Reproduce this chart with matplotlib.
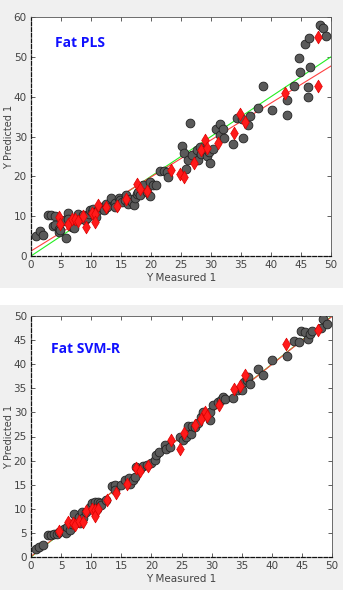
import numpy as np
import matplotlib
matplotlib.use("Agg")
import matplotlib.pyplot as plt
from matplotlib.patches import Rectangle

# ---- PLS panel data ----
pls_cal_x = [0.83, 1.5, 2.05, 2.9, 3.4, 4.0, 3.6, 4.0, 4.7, 4.7, 4.8, 5.4, 5.7, 5.9, 6.2, 6.2, 6.5, 6.8,
             7.1, 7.3, 7.6, 7.9, 8.2, 8.7, 9.0, 9.3, 9.6, 9.8, 10.1, 10.4, 10.7, 10.9, 11.2, 11.5, 12.1,
             12.5, 12.6, 13.4, 14.0, 14.0, 14.6, 14.8, 15.1, 15.7, 15.9, 16.2, 16.5, 16.8, 17.1, 17.3,
             17.6, 17.9, 18.2, 18.7, 19.3, 19.8, 19.9, 20.4, 20.9, 21.5, 22.1, 22.6, 22.9, 25.1, 25.5,
             25.9, 26.2, 26.5, 26.8, 27.6, 27.9, 28.2, 28.4, 28.8, 29.3, 29.6, 29.8, 30.4, 30.9, 31.5,
             31.5, 32.0, 32.2, 33.7, 34.3, 35.1, 35.3, 36.2, 36.5, 37.8, 38.6, 40.1, 42.6, 42.7, 43.8,
             44.7, 44.9, 45.7, 46.1, 46.1, 46.3, 46.5, 48.2, 48.6, 49.2]
pls_cal_y = [4.9, 6.2, 5.2, 10.2, 10.2, 10.0, 7.5, 7.7, 6.9, 5.9, 6.6, 8.7, 9.0, 4.6, 10.9, 9.4, 8.1, 7.3,
             7.0, 9.0, 9.8, 10.5, 9.4, 10.2, 9.0, 9.6, 10.6, 11.6, 11.0, 11.9, 11.1, 9.8, 11.6, 12.3, 11.5,
             13.0, 12.3, 14.6, 13.3, 12.3, 14.6, 14.0, 13.6, 14.0, 15.2, 13.1, 14.4, 13.6, 12.7, 14.6,
             15.6, 16.1, 15.2, 17.9, 16.1, 18.6, 15.0, 17.9, 17.9, 21.3, 21.3, 21.1, 19.8, 27.5, 25.9,
             21.9, 24.2, 33.5, 25.3, 26.5, 24.2, 27.4, 25.5, 26.5, 25.0, 26.1, 23.3, 26.9, 32.0, 33.2,
             30.3, 32.0, 29.7, 28.0, 34.6, 34.5, 29.5, 32.8, 35.1, 37.2, 42.6, 36.6, 39.2, 35.3, 42.6,
             49.7, 46.2, 53.3, 42.4, 39.9, 54.7, 47.4, 57.9, 57.2, 55.2]
pls_val_x = [4.7, 4.8, 6.2, 6.8, 7.3, 7.9, 8.6, 9.2, 10.1, 10.7, 10.7, 11.2, 12.5, 14.3, 15.9, 17.6,
             18.2, 19.3, 23.4, 24.8, 25.5, 27.2, 28.4, 29.0, 29.3, 31.2, 33.8, 34.8, 35.7, 42.4, 47.8, 47.8]
pls_val_y = [9.8, 8.1, 8.1, 9.4, 9.4, 8.8, 10.0, 7.4, 10.8, 10.5, 8.5, 12.7, 12.3, 12.6, 14.2, 18.0,
             16.7, 16.3, 21.7, 20.7, 19.8, 23.3, 26.7, 29.2, 27.2, 28.4, 30.9, 35.7, 33.6, 41.0, 55.1, 42.7]
pls_fit = (0.929, 1.25)  # slope, intercept

# ---- SVM-R panel data ----
svm_cal_x = [0.83, 1.4, 2.0, 2.9, 3.4, 3.9, 4.3, 4.7, 5.4, 5.8, 5.9, 6.5, 6.8, 7.1, 7.3, 7.9, 8.1, 8.4,
             8.7, 9.2, 9.8, 10.2, 10.6, 10.9, 11.2, 11.4, 11.7, 12.5, 13.4, 13.9, 13.9, 15.0, 15.6, 16.2,
             16.4, 17.0, 17.3, 17.5, 18.1, 18.6, 19.2, 20.0, 20.6, 20.8, 21.3, 22.2, 22.5, 23.1, 24.7,
             25.2, 25.8, 26.1, 26.5, 26.7, 27.2, 27.8, 28.3, 28.6, 29.2, 29.7, 29.7, 30.3, 31.1, 31.5,
             31.9, 32.2, 33.6, 34.4, 35.1, 35.3, 35.8, 36.1, 36.4, 37.7, 38.6, 40.1, 42.5, 43.7, 44.6,
             44.9, 45.5, 46.0, 46.3, 46.6, 48.2, 48.5, 49.1]
svm_cal_y = [1.7, 2.1, 2.4, 4.6, 4.6, 4.8, 4.8, 5.2, 5.9, 5.0, 6.2, 5.7, 6.9, 9.0, 7.3, 8.4, 7.1, 9.3,
             8.0, 9.3, 10.4, 11.1, 11.5, 10.0, 11.4, 11.1, 10.7, 11.8, 14.7, 15.0, 13.8, 14.9, 15.9, 16.3,
             15.2, 15.9, 16.6, 18.7, 18.3, 18.8, 19.0, 19.4, 20.1, 21.1, 21.8, 23.3, 22.5, 22.8, 24.9,
             24.2, 24.9, 27.1, 25.6, 27.1, 27.0, 27.8, 29.0, 30.1, 29.4, 28.4, 30.1, 31.5, 32.2, 32.6,
             33.2, 32.8, 33.0, 34.6, 34.6, 36.3, 36.8, 37.3, 35.9, 39.1, 37.7, 40.9, 41.8, 44.9, 44.6,
             46.9, 46.7, 45.3, 46.3, 46.9, 47.6, 49.3, 48.3]
svm_val_x = [4.7, 6.2, 6.9, 7.3, 7.9, 8.6, 9.2, 10.1, 10.6, 10.6, 11.2, 12.6, 14.2, 15.9, 17.5, 18.1,
             19.4, 23.3, 24.7, 25.4, 27.2, 28.3, 28.9, 29.2, 31.2, 33.8, 34.8, 35.5, 42.3, 47.7]
svm_val_y = [5.4, 7.3, 7.1, 6.6, 7.5, 7.3, 9.5, 10.0, 9.8, 8.6, 10.0, 11.8, 13.3, 15.2, 18.5, 17.8,
             18.9, 24.2, 22.5, 25.7, 27.3, 28.6, 30.1, 29.2, 31.6, 34.9, 35.4, 37.8, 44.1, 47.0]
svm_fit = (0.996, 0.1)

W, H = 353, 600
fig = plt.figure(figsize=(W / 100, H / 100), dpi=100, facecolor="white")

# gray screenshot backgrounds
for (x0, y0, x1, y1) in [(0, 0, 343, 288), (0, 305, 343, 590)]:
    fig.patches.append(Rectangle((x0 / W, 1 - y1 / H), (x1 - x0) / W, (y1 - y0) / H,
                                 transform=fig.transFigure, facecolor="#f0f0f0",
                                 edgecolor="none", zorder=-10))


def panel(rect, cx, cy, vx, vy, fit, ymax, ystep, title, tpos):
    ax = fig.add_axes(rect)
    ax.set_facecolor("white")
    xs = np.array([0, 50])
    ax.plot(xs, xs, color="#22ee22", lw=0.8, zorder=2)
    ax.plot(xs, fit[0] * xs + fit[1], color="#ff4040", lw=0.8, zorder=2)
    ax.scatter(cx, cy, s=40, marker="o", facecolor="#5a5a5a", edgecolor="#222222",
               linewidths=0.6, zorder=3)
    ax.scatter(vx, vy, s=42, marker="d", facecolor="#ff1a1a", edgecolor="#dd0000",
               linewidths=0.5, zorder=4)
    ax.set_xlim(0, 50)
    ax.set_ylim(0, ymax)
    ax.set_xticks(np.arange(0, 51, 5))
    ax.set_yticks(np.arange(0, ymax + 1, ystep))
    ax.tick_params(direction="in", length=3, width=0.6, top=True, right=True,
                   labelsize=7.5, labelcolor="#444444", color="#444444", pad=3)
    for s in ["top", "right"]:
        ax.spines[s].set_color("#555555")
        ax.spines[s].set_linewidth(0.6)
    for s in ["left", "bottom"]:
        ax.spines[s].set_color("#111111")
        ax.spines[s].set_linewidth(0.9)
        ax.spines[s].set_linestyle((0, (3, 1.5)))
    ax.set_xlabel("Y Measured 1", fontsize=7.5, color="#444444", labelpad=2)
    ax.set_ylabel("Y Predicted 1", fontsize=7, color="#444444")
    ax.yaxis.set_label_coords(-0.058, 0.5)
    ax.text(tpos[0], tpos[1], title, transform=ax.transAxes, fontsize=10,
            fontweight="bold", color="#1010ff", family="Open Sans", va="center")
    return ax


panel([31 / W, 1 - 256 / H, 300 / W, 239 / H], pls_cal_x, pls_cal_y, pls_val_x, pls_val_y,
      pls_fit, 60, 10, "Fat PLS", (0.08, 0.89))
panel([31 / W, 1 - 557 / H, 301 / W, 241 / H], svm_cal_x, svm_cal_y, svm_val_x, svm_val_y,
      svm_fit, 50, 5, "Fat SVM-R", (0.066, 0.865))

fig.savefig("out.png", dpi=100, facecolor=fig.get_facecolor())
